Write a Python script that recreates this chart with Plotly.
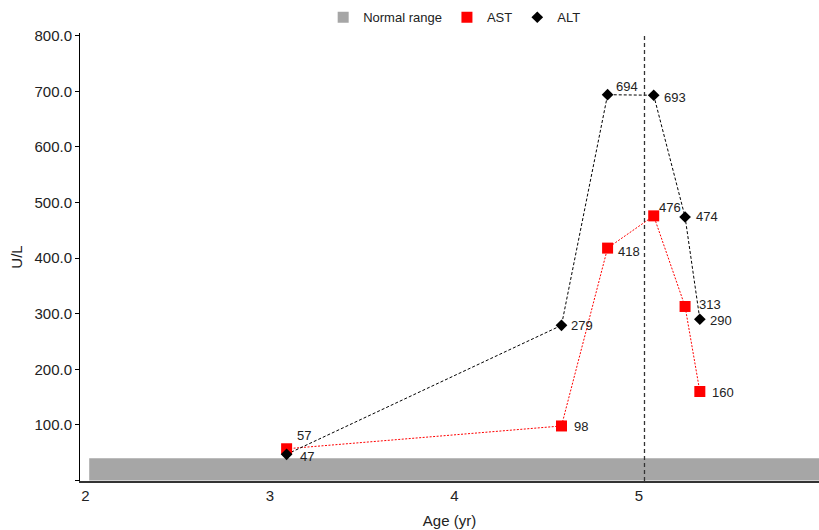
import plotly.graph_objects as go

# ---- data ----
age_yr = [3.09, 4.58, 4.83, 5.08, 5.25, 5.33]
ast_values = [57, 98, 418, 476, 313, 160]
alt_values = [47, 279, 694, 693, 474, 290]
normal_low = 0
normal_high = 40
normal_x_start = 2.02
marker_age = 5.03
x_tick_vals = [2, 3, 4, 5]
y_tick_vals = [0, 100, 200, 300, 400, 500, 600, 700, 800]
y_tick_text = ["", "100.0", "200.0", "300.0", "400.0", "500.0", "600.0", "700.0", "800.0"]

# ---- label offsets (px) ----
ast_offsets = [(17, 13), (20, -1), (21, -3), (16, 8), (25, 2), (23, -1)]
alt_offsets = [(20, -2), (21, 0), (19, 8), (21, -2), (22, 0), (21, -1)]

FONT = "Arial, Liberation Sans, sans-serif"
X_RANGE = [1.970, 5.976]
Y_RANGE = [-1, 805]

fig = go.Figure()

# connecting lines (no legend)
fig.add_trace(go.Scatter(
    x=age_yr, y=ast_values, mode="lines", showlegend=False, hoverinfo="skip",
    line=dict(color="#ff0000", width=1, dash="2px,1.5px"),
))
fig.add_trace(go.Scatter(
    x=age_yr, y=alt_values, mode="lines", showlegend=False, hoverinfo="skip",
    line=dict(color="#000000", width=1, dash="3px,2px"),
))
# legend-only entry for the normal range band
fig.add_trace(go.Scatter(
    x=[None], y=[None], mode="markers", name="Normal range", legendrank=1,
    marker=dict(symbol="square", size=11, color="#a6a6a6"),
))
fig.add_trace(go.Scatter(
    x=age_yr, y=ast_values, mode="markers", name="AST", legendrank=2,
    marker=dict(symbol="square", size=11, color="#ff0000"),
))
fig.add_trace(go.Scatter(
    x=age_yr, y=alt_values, mode="markers", name="ALT", legendrank=3,
    marker=dict(symbol="diamond", size=9, color="#000000"),
))

# Normal range band
fig.add_shape(type="rect", xref="x", yref="y",
              x0=normal_x_start, x1=X_RANGE[1], y0=normal_low, y1=normal_high,
              fillcolor="#a6a6a6", line=dict(width=0), layer="below")
# vertical dashed line
fig.add_shape(type="line", xref="x", yref="paper",
              x0=marker_age, x1=marker_age, y0=0, y1=1,
              line=dict(color="#333333", width=1.3, dash="4px,3px"), layer="above")

annotations = []
for xs, ys, offs in ((age_yr, ast_values, ast_offsets), (age_yr, alt_values, alt_offsets)):
    for xv, yv, (dx, dy) in zip(xs, ys, offs):
        annotations.append(dict(
            x=xv, y=yv, xref="x", yref="y", text=str(yv), showarrow=False,
            xshift=dx, yshift=dy, font=dict(family=FONT, size=13, color="#222222"),
        ))

fig.update_layout(
    width=819, height=530,
    margin=dict(l=80, r=0, t=33, b=49, autoexpand=False),
    plot_bgcolor="white", paper_bgcolor="white",
    font=dict(family=FONT, color="#222222"),
    showlegend=True,
    legend=dict(orientation="h", x=0.507, xanchor="center", y=1.035, yanchor="middle",
                font=dict(family=FONT, size=13, color="#222222"),
                itemwidth=30, tracegroupgap=0, bgcolor="rgba(0,0,0,0)"),
    annotations=annotations,
    xaxis=dict(range=X_RANGE, tickvals=x_tick_vals, ticktext=[str(v) for v in x_tick_vals],
               showgrid=False, zeroline=False, showline=True, linecolor="#333333", linewidth=1.5,
               ticks="", tickfont=dict(family=FONT, size=15, color="#222222"),
               title=dict(text="Age (yr)", font=dict(family=FONT, size=15, color="#222222"), standoff=13)),
    yaxis=dict(range=Y_RANGE, tickvals=y_tick_vals, ticktext=y_tick_text,
               showgrid=False, zeroline=False, showline=True, linecolor="#000000", linewidth=1,
               ticks="outside", ticklen=4, tickcolor="#000000",
               tickfont=dict(family=FONT, size=15, color="#222222"),
               title=dict(text="U/L", font=dict(family=FONT, size=15, color="#222222"), standoff=8)),
)

fig.write_html("out.html", config={"displayModeBar": False},
               post_script="document.body.style.margin='0';")
